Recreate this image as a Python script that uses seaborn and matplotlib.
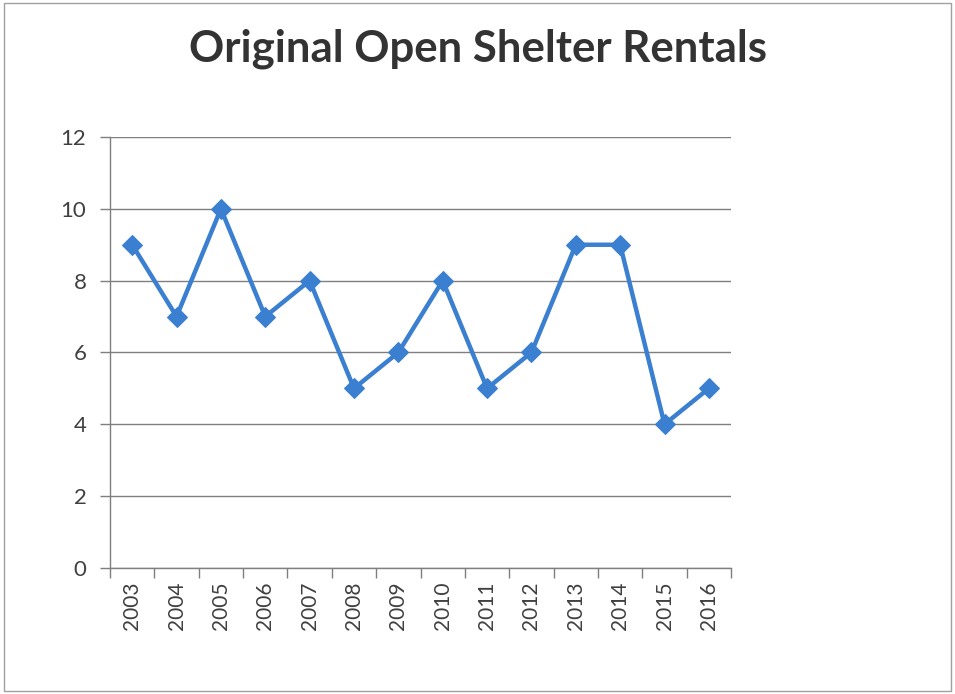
import numpy as np
import pandas as pd
import seaborn as sns
import matplotlib.pyplot as plt
from matplotlib.ticker import FixedLocator
from matplotlib.patches import Rectangle

years = [2003, 2004, 2005, 2006, 2007, 2008, 2009, 2010, 2011, 2012, 2013, 2014, 2015, 2016]
rentals = [9, 7, 10, 7, 8, 5, 6, 8, 5, 6, 9, 9, 4, 5]
yticks = [0, 2, 4, 6, 8, 10, 12]

df = pd.DataFrame({'Year': years, 'Rentals': rentals})

sns.set_style("white")
plt.rcParams['font.family'] = ['Lato', 'DejaVu Sans']

fig = plt.figure(figsize=(9.55, 6.94), dpi=100)
ax = fig.add_axes([0.1152, 0.1816, 0.6503, 0.621])

sns.lineplot(data=df, x='Year', y='Rentals', ax=ax,
             color='#3a7fd0', linewidth=3.2,
             marker='D', markersize=10, markeredgecolor='#3a7fd0')

ax.set_xlim(years[0] - 0.5, years[-1] + 0.5)
ax.set_ylim(0, 12)
ax.set_yticks(yticks)
ax.set_xticks(years)
ax.set_xticklabels([str(y) for y in years], rotation=90)
ax.xaxis.set_minor_locator(FixedLocator(np.arange(years[0] - 0.5, years[-1] + 1, 1)))
ax.tick_params(axis='x', which='major', bottom=False, length=0, pad=10,
               labelsize=15, labelcolor='#404040')
ax.tick_params(axis='x', which='minor', bottom=True, length=7, width=1,
               color='#7f7f7f', direction='out')
ax.tick_params(axis='y', left=True, length=7, width=1, color='#7f7f7f', direction='out',
               pad=10, labelsize=16, labelcolor='#404040')
ax.yaxis.grid(True, color='#7f7f7f', linewidth=1)
ax.set_axisbelow(True)
ax.set_xlabel('')
ax.set_ylabel('')
for s in ['top', 'right']:
    ax.spines[s].set_visible(False)
for s in ['left', 'bottom']:
    ax.spines[s].set_color('#7f7f7f')
    ax.spines[s].set_linewidth(1)

fig.text(0.5, 0.93, 'Original Open Shelter Rentals', ha='center', va='center',
         fontsize=31.5, fontweight='bold', color='#333333')

fig.patches.append(Rectangle((0.004, 0.004), 0.992, 0.991, transform=fig.transFigure,
                             fill=False, edgecolor='#a0a0a0', linewidth=1.0))

fig.savefig('out.png', dpi=100)
